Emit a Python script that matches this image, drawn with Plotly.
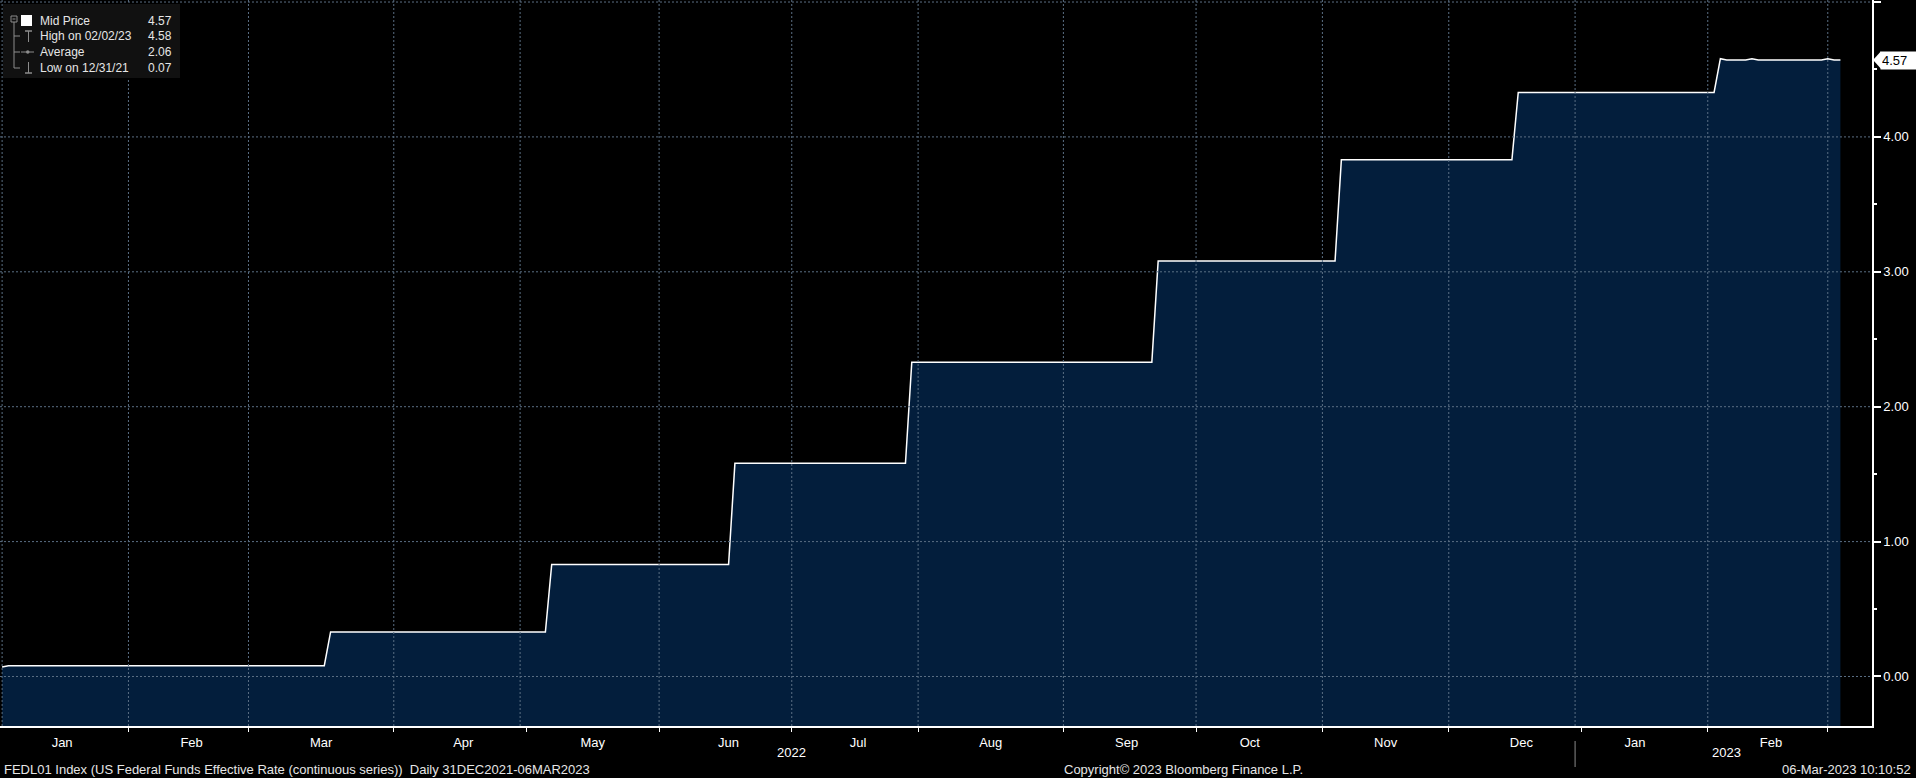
import plotly.graph_objects as go
import pandas as pd

# FEDL01 daily series, corner points of the steps (date, rate)
dates = [
    "2021-12-31", "2022-01-03", "2022-03-16", "2022-03-17", "2022-05-04",
    "2022-05-05", "2022-06-15", "2022-06-16", "2022-07-27", "2022-07-28",
    "2022-09-21", "2022-09-22", "2022-11-02", "2022-11-03", "2022-12-14",
    "2022-12-15", "2023-02-01", "2023-02-02", "2023-02-03", "2023-02-08",
    "2023-02-09", "2023-02-10", "2023-02-27", "2023-02-28", "2023-03-01",
    "2023-03-02",
]
rates = [
    0.07, 0.08, 0.08, 0.33, 0.33,
    0.83, 0.83, 1.58, 1.58, 2.33,
    2.33, 3.08, 3.08, 3.83, 3.83,
    4.33, 4.33, 4.58, 4.57, 4.57,
    4.58, 4.57, 4.57, 4.58, 4.57,
    4.57,
]

# days with no fixing (Fed holidays)
holidays = [
    "2022-01-17", "2022-02-21", "2022-05-30", "2022-06-20", "2022-07-04",
    "2022-09-05", "2022-10-10", "2022-11-11", "2022-11-24", "2022-12-26",
    "2023-01-02", "2023-01-16", "2023-02-20",
]

y_ticks = [0, 1, 2, 3, 4, 5]
y_labels = ["0.00", "1.00", "2.00", "3.00", "4.00", ""]

legend_labels = ["Mid Price", "High on 02/02/23", "Average", "Low on 12/31/21"]
legend_values = ["4.57", "4.58", "2.06", "0.07"]

years = ["2022", "2023"]
last_value = rates[-1]

FONT = "Liberation Sans, Arial, sans-serif"
Y_MIN, Y_MAX = -0.367, 5.015
PLOT_W, PLOT_H = 1872, 726
GRID = "#5b6f84"


def px_x(p):
    return p / PLOT_W


def px_y(p):
    return 1 - p / PLOT_H


fig = go.Figure()

# invisible floor so the area fills down to the bottom of the plot
fig.add_trace(go.Scatter(
    x=dates, y=[Y_MIN] * len(dates), mode="lines",
    line=dict(width=0, color="rgba(0,0,0,0)"),
    xperiod=86400000, xperiodalignment="end",
    hoverinfo="skip", showlegend=False,
))
fig.add_trace(go.Scatter(
    x=dates, y=rates, mode="lines",
    line=dict(color="white", width=1.5),
    fill="tonexty", fillcolor="#031E3C",
    xperiod=86400000, xperiodalignment="end",
    showlegend=False,
))

shapes = []
# dashed grid drawn over the area
for d in pd.date_range("2022-01-01", "2023-03-01", freq="MS"):
    shapes.append(dict(type="line", xref="x", yref="paper", x0=d, x1=d, y0=0, y1=1,
                       line=dict(color=GRID, width=1, dash="2px,2px"), layer="above"))
for v in y_ticks:
    shapes.append(dict(type="line", xref="paper", yref="y", x0=0, x1=1, y0=v, y1=v,
                       line=dict(color=GRID, width=1, dash="2px,2px"), layer="above"))

# year separator under the axis
shapes.append(dict(type="line", xref="x", yref="paper", x0="2023-01-01", x1="2023-01-01",
                   y0=px_y(741), y1=px_y(767), line=dict(color="#8a8a8a", width=1)))

# last value marker
shapes.append(dict(type="path", xref="paper", yref="y", fillcolor="white", line=dict(width=0),
                   path=f"M {px_x(1873)},{last_value} L {px_x(1881)},{last_value + 0.065} "
                        f"L {px_x(1881)},{last_value - 0.065} Z"))

# legend box and icons
ICON = "#8c8c8c"
shapes.append(dict(type="rect", xref="paper", yref="paper", x0=px_x(3), x1=px_x(180),
                   y0=px_y(78), y1=px_y(4), fillcolor="#111111", line=dict(width=0), layer="above"))
shapes.append(dict(type="rect", xref="paper", yref="paper", x0=px_x(11), x1=px_x(17),
                   y0=px_y(22), y1=px_y(16), line=dict(color=ICON, width=1), layer="above"))
shapes.append(dict(type="line", xref="paper", yref="paper", x0=px_x(12.5), x1=px_x(15.5),
                   y0=px_y(19), y1=px_y(19), line=dict(color=ICON, width=1), layer="above"))
shapes.append(dict(type="line", xref="paper", yref="paper", x0=px_x(14), x1=px_x(14),
                   y0=px_y(22), y1=px_y(68), line=dict(color=ICON, width=1), layer="above"))
for row_y in [36, 52, 68]:
    shapes.append(dict(type="line", xref="paper", yref="paper", x0=px_x(14), x1=px_x(20),
                       y0=px_y(row_y), y1=px_y(row_y), line=dict(color=ICON, width=1), layer="above"))
shapes.append(dict(type="rect", xref="paper", yref="paper", x0=px_x(21), x1=px_x(32),
                   y0=px_y(26), y1=px_y(15), fillcolor="white", line=dict(width=0), layer="above"))
# high icon
shapes.append(dict(type="line", xref="paper", yref="paper", x0=px_x(28.5), x1=px_x(28.5),
                   y0=px_y(31), y1=px_y(42), line=dict(color=ICON, width=1), layer="above"))
shapes.append(dict(type="line", xref="paper", yref="paper", x0=px_x(25), x1=px_x(32),
                   y0=px_y(31), y1=px_y(31), line=dict(color=ICON, width=1.5), layer="above"))
# average icon
shapes.append(dict(type="line", xref="paper", yref="paper", x0=px_x(21), x1=px_x(34),
                   y0=px_y(52), y1=px_y(52), line=dict(color=ICON, width=1), layer="above"))
shapes.append(dict(type="circle", xref="paper", yref="paper", x0=px_x(26), x1=px_x(29.5),
                   y0=px_y(53.8), y1=px_y(50.2), fillcolor=ICON, line=dict(width=0), layer="above"))
# low icon
shapes.append(dict(type="line", xref="paper", yref="paper", x0=px_x(28.5), x1=px_x(28.5),
                   y0=px_y(62), y1=px_y(73), line=dict(color=ICON, width=1), layer="above"))
shapes.append(dict(type="line", xref="paper", yref="paper", x0=px_x(25), x1=px_x(32),
                   y0=px_y(73), y1=px_y(73), line=dict(color=ICON, width=1.5), layer="above"))

annotations = []
LEG = dict(family=FONT, size=12, color="#e6e6e6")
for i, (lab, val) in enumerate(zip(legend_labels, legend_values)):
    row_y = [21, 36, 52, 68][i]
    annotations.append(dict(xref="paper", yref="paper", x=px_x(38), y=px_y(row_y),
                            xanchor="left", yanchor="middle", showarrow=False, text=lab, font=LEG))
    annotations.append(dict(xref="paper", yref="paper", x=px_x(174), y=px_y(row_y),
                            xanchor="right", yanchor="middle", showarrow=False, text=val, font=LEG))

annotations.append(dict(xref="paper", yref="y", x=px_x(1880), y=last_value, xanchor="left",
                        yanchor="middle", showarrow=False, text=f"{last_value:.2f}",
                        bgcolor="white", width=34, height=15, align="left", borderpad=1,
                        font=dict(family=FONT, size=13, color="black")))

for yr, cx in zip(years, [791, 1726]):
    annotations.append(dict(xref="paper", yref="paper", x=px_x(cx), y=px_y(752),
                            xanchor="center", yanchor="middle", showarrow=False, text=yr,
                            font=dict(family=FONT, size=13, color="white")))

FOOT = dict(family=FONT, size=13, color="#e6e6e6")
annotations.append(dict(xref="paper", yref="paper", x=px_x(2), y=px_y(769), xanchor="left",
                        yanchor="middle", showarrow=False, font=FOOT,
                        text="FEDL01 Index (US Federal Funds Effective Rate (continuous series))"
                             "&nbsp;&nbsp;Daily 31DEC2021-06MAR2023"))
annotations.append(dict(xref="paper", yref="paper", x=px_x(1183), y=px_y(769), xanchor="center",
                        yanchor="middle", showarrow=False, font=FOOT,
                        text="Copyright\u00a9 2023 Bloomberg Finance L.P."))
annotations.append(dict(xref="paper", yref="paper", x=px_x(1913), y=px_y(769), xanchor="right",
                        yanchor="middle", showarrow=False, font=FOOT,
                        text="06-Mar-2023 10:10:52"))

fig.update_layout(
    width=1916, height=778,
    margin=dict(l=0, r=44, t=0, b=52),
    paper_bgcolor="black", plot_bgcolor="black",
    showlegend=False,
    shapes=shapes, annotations=annotations,
    font=dict(family=FONT, color="white"),
)

fig.update_xaxes(
    type="date",
    range=["2021-12-31 16:00", "2023-03-10"],
    rangebreaks=[dict(bounds=["sat", "mon"]), dict(values=holidays)],
    tick0="2022-01-01", dtick="M1", tickformat="%b", ticklabelmode="period",
    ticks="outside", ticklen=4, tickcolor="white", tickwidth=1,
    showline=True, linecolor="white", linewidth=1.5,
    showgrid=False, zeroline=False,
    tickfont=dict(family=FONT, size=13, color="white"),
)

fig.update_yaxes(
    side="right", range=[Y_MIN, Y_MAX],
    tickmode="array", tickvals=y_ticks, ticktext=y_labels,
    ticks="outside", ticklen=7, tickwidth=2, tickcolor="white",
    minor=dict(dtick=0.5, tick0=0, ticks="outside", ticklen=3, tickcolor="white", showgrid=False),
    showline=True, linecolor="white", linewidth=1.5,
    showgrid=False, zeroline=False,
    tickfont=dict(family=FONT, size=13, color="white"),
)

fig.write_html("out.html", config={"displayModeBar": False},
               post_script="document.body.style.margin='0';document.body.style.background='black';")
